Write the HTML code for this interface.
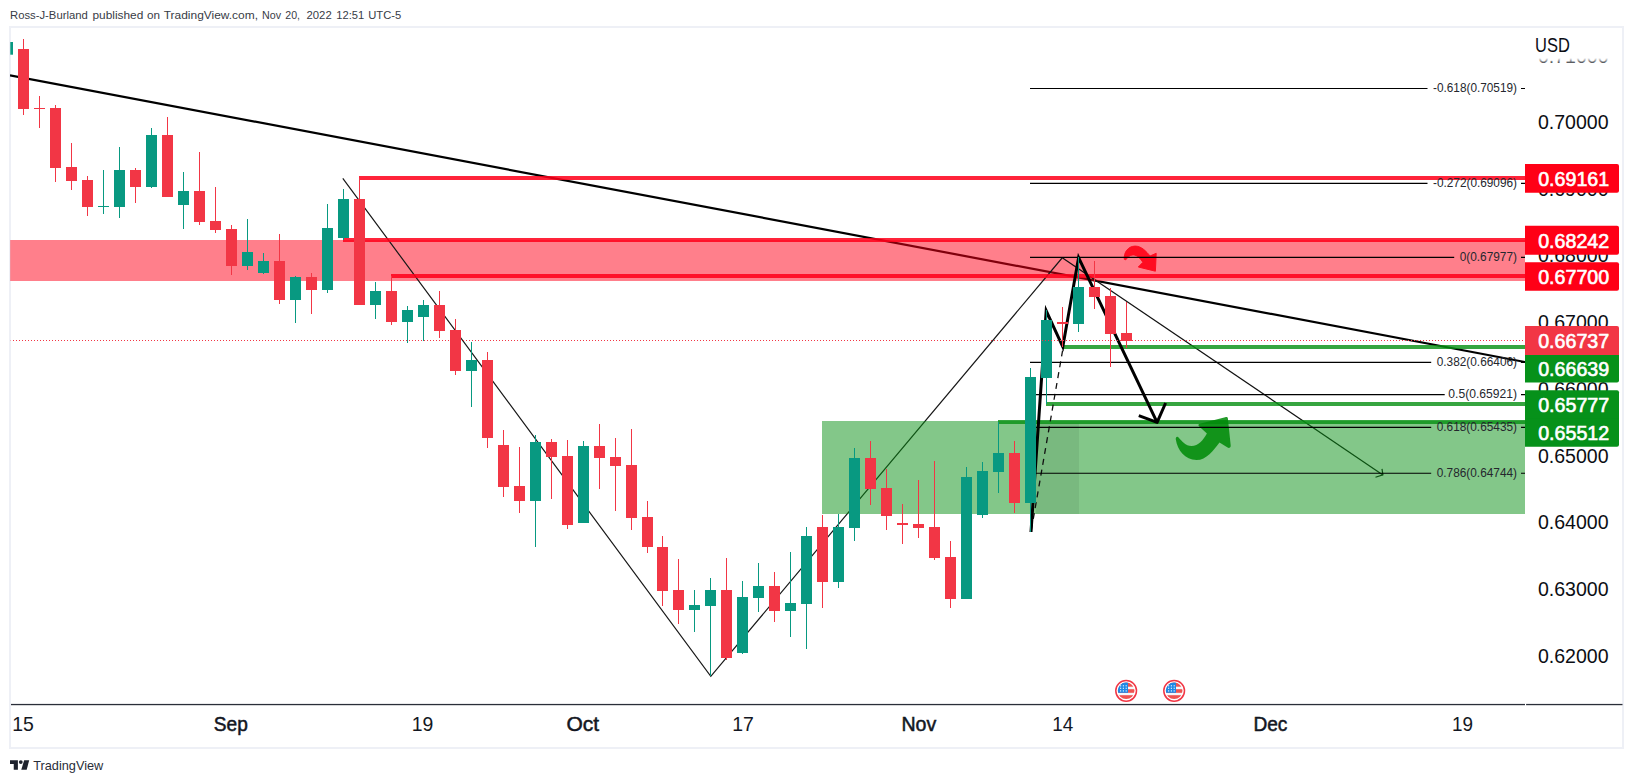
<!DOCTYPE html>
<html lang="en"><head><meta charset="utf-8"><title>TradingView chart</title>
<style>html,body{margin:0;padding:0;background:#fff;overflow:hidden}body{width:1633px;height:783px;position:relative;font-family:"Liberation Sans",sans-serif}svg text{font-family:"Liberation Sans",sans-serif}</style></head>
<body>
<svg width="1633" height="783" viewBox="0 0 1633 783" style="display:block;position:absolute;left:0;top:0">
<defs><linearGradient id="fade" x1="0" y1="0" x2="0" y2="1"><stop offset="0" stop-color="#fff" stop-opacity="1"/><stop offset="0.83" stop-color="#fff" stop-opacity="1"/><stop offset="1" stop-color="#fff" stop-opacity="0.1"/></linearGradient>
<clipPath id="flagclip1"><circle cx="1126.15" cy="690.8" r="8.3"/></clipPath><clipPath id="flagclip2"><circle cx="1174.15" cy="690.8" r="8.3"/></clipPath>
<clipPath id="plot"><rect x="10" y="28" width="1515" height="676"/></clipPath></defs>
<rect width="1633" height="783" fill="#fff"/>
<rect x="10" y="27" width="1613" height="721" fill="none" stroke="#eef0f6" stroke-width="2"/>
<g clip-path="url(#plot)">
<line x1="10" y1="75.3" x2="1525" y2="362" stroke="#000" stroke-width="2.2"/>
<rect x="10.2" y="240" width="1514.8" height="41" fill="rgb(255,0,24)" fill-opacity="0.5"/>
<g stroke="#111" stroke-width="1.2" fill="none"><path d="M1062.6 257.9L1382.9 474.9"/><path d="M1382 468.8L1382.9 474.8L1375.5 477.2"/></g>
<path d="M342.8 178.3L710.8 676.3L1062.5 257.5" fill="none" stroke="#181818" stroke-width="1.2" stroke-linejoin="miter"/>
<rect x="822" y="421" width="703" height="93" fill="rgb(8,144,20)" fill-opacity="0.5"/>
<rect x="1036" y="423" width="43" height="91" fill="#000" fill-opacity="0.07"/>
<rect x="359" y="176" width="1166" height="4" fill="rgb(255,0,26)" fill-opacity="0.86"/>
<rect x="343" y="238" width="1182" height="4" fill="rgb(255,0,26)" fill-opacity="0.86"/>
<rect x="391" y="274" width="1134" height="4" fill="rgb(255,0,26)" fill-opacity="0.86"/>
<rect x="359" y="180" width="1" height="20" fill="#f23645"/>
<rect x="391" y="278" width="1" height="14" fill="#f23645"/>
<rect x="1063" y="345" width="462" height="4" fill="rgb(8,144,20)" fill-opacity="0.81"/>
<rect x="1046" y="402" width="479" height="4" fill="rgb(8,144,20)" fill-opacity="0.81"/>
<rect x="998" y="420" width="527" height="4" fill="rgb(8,144,20)" fill-opacity="0.81"/>
<g opacity="0.9"><path fill="rgb(255,0,22)" stroke="rgb(255,0,22)" stroke-width="1" stroke-linejoin="round" d="M1124.3 259.3 C1123.6 252.5 1128 246.3 1135 246.1 C1141.5 246 1146.2 251.5 1150.1 256 L1156.2 253.3 L1155.4 271.2 L1138.3 267 L1142.9 262.3 C1140.3 258.5 1137.5 255 1133.2 254.9 C1129.5 254.9 1127.3 257.5 1125.8 259.8 Z"/></g>
<path fill="rgb(0,138,8)" fill-opacity="0.86" stroke="none" d="M1177.5 436.8 C1176.3 436.6 1175.6 438 1175.8 439.6 C1177.5 450.5 1185 459.8 1196.5 460 C1206.5 460 1213.5 450 1219.5 442.4 L1227.6 447.6 C1229.3 448.5 1230.9 447.3 1230.7 445.5 L1227.9 418.6 C1227.7 417.2 1226.6 416.8 1225.2 417.3 L1199.8 423.7 C1198.3 424.2 1198 425.3 1199 426.2 L1206.9 433.4 C1203 440 1198.5 446 1191.5 446 C1185.5 445.8 1181.8 441 1178.6 437.4 Z"/>
<path d="M1062.6 350.5L1031 532" fill="none" stroke="#111" stroke-width="1.3" stroke-dasharray="6 5"/>
<path d="M1031 532L1046.2 310.8L1062.8 346.8L1078.6 257.6L1157.2 422.6" fill="none" stroke="#000" stroke-width="3" stroke-linejoin="miter" stroke-miterlimit="10"/>
<path d="M1138.8 415.7L1157.1 422.4L1165.6 403" fill="none" stroke="#000" stroke-width="3" stroke-linejoin="round"/>
</g>
<path d="M1030 88.5H1427.5M1521 88.5H1525" stroke="#000" stroke-width="1.15"/>
<text x="1433.00" y="92.0" font-size="12.4" fill="#25272e" textLength="84" lengthAdjust="spacingAndGlyphs">-0.618(0.70519)</text>
<path d="M1030 183.3H1427.5M1521 183.3H1525" stroke="#000" stroke-width="1.15"/>
<text x="1433.00" y="186.8" font-size="12.4" fill="#25272e" textLength="84" lengthAdjust="spacingAndGlyphs">-0.272(0.69096)</text>
<path d="M1030 257.4H1454.2M1521 257.4H1525" stroke="#000" stroke-width="1.15"/>
<text x="1459.70" y="260.9" font-size="12.4" fill="#25272e" textLength="57.3" lengthAdjust="spacingAndGlyphs">0(0.67977)</text>
<path d="M1030 362.4H1431.2M1521 362.4H1525" stroke="#000" stroke-width="1.15"/>
<text x="1436.75" y="365.9" font-size="12.4" fill="#25272e" textLength="80.25" lengthAdjust="spacingAndGlyphs">0.382(0.66406)</text>
<path d="M1030 394.6H1444.7M1521 394.6H1525" stroke="#000" stroke-width="1.15"/>
<text x="1448.30" y="398.1" font-size="12.4" fill="#25272e" textLength="68.7" lengthAdjust="spacingAndGlyphs">0.5(0.65921)</text>
<path d="M1030 427.3H1431.2M1521 427.3H1525" stroke="#000" stroke-width="1.15"/>
<text x="1436.75" y="430.8" font-size="12.4" fill="#25272e" textLength="80.25" lengthAdjust="spacingAndGlyphs">0.618(0.65435)</text>
<path d="M1030 473.2H1431.2M1521 473.2H1525" stroke="#000" stroke-width="1.15"/>
<text x="1436.75" y="476.7" font-size="12.4" fill="#25272e" textLength="80.25" lengthAdjust="spacingAndGlyphs">0.786(0.64744)</text>
<rect x="10.3" y="42" width="2.7" height="12.7" fill="#089981"/>
<rect x="23" y="39" width="1" height="76" fill="#f23645"/><rect x="18" y="49" width="11" height="60" fill="#f23645"/>
<rect x="39" y="96" width="1" height="32" fill="#f23645"/><rect x="34" y="108" width="11" height="1" fill="#f23645"/>
<rect x="55" y="105" width="1" height="77" fill="#f23645"/><rect x="50" y="108" width="11" height="60" fill="#f23645"/>
<rect x="71" y="143" width="1" height="47" fill="#f23645"/><rect x="66" y="167" width="11" height="14" fill="#f23645"/>
<rect x="87" y="176" width="1" height="40" fill="#f23645"/><rect x="82" y="180" width="11" height="27" fill="#f23645"/>
<rect x="103" y="170" width="1" height="44" fill="#089981"/><rect x="98" y="206" width="11" height="1" fill="#089981"/>
<rect x="119" y="147" width="1" height="71" fill="#089981"/><rect x="114" y="170" width="11" height="37" fill="#089981"/>
<rect x="135" y="168" width="1" height="35" fill="#f23645"/><rect x="130" y="170" width="11" height="17" fill="#f23645"/>
<rect x="151" y="128" width="1" height="60" fill="#089981"/><rect x="146" y="135" width="11" height="52" fill="#089981"/>
<rect x="167" y="117" width="1" height="79" fill="#f23645"/><rect x="162" y="135" width="11" height="62" fill="#f23645"/>
<rect x="183" y="172" width="1" height="57" fill="#089981"/><rect x="178" y="191" width="11" height="14" fill="#089981"/>
<rect x="199" y="152" width="1" height="73" fill="#f23645"/><rect x="194" y="191" width="11" height="31" fill="#f23645"/>
<rect x="215" y="187" width="1" height="46" fill="#f23645"/><rect x="210" y="221" width="11" height="9" fill="#f23645"/>
<rect x="231" y="225" width="1" height="50" fill="#f23645"/><rect x="226" y="229" width="11" height="37" fill="#f23645"/>
<rect x="247" y="219" width="1" height="51" fill="#089981"/><rect x="242" y="252" width="11" height="14" fill="#089981"/>
<rect x="263" y="253" width="1" height="21" fill="#089981"/><rect x="258" y="261" width="11" height="12" fill="#089981"/>
<rect x="279" y="234" width="1" height="70" fill="#f23645"/><rect x="274" y="261" width="11" height="39" fill="#f23645"/>
<rect x="295" y="276" width="1" height="47" fill="#089981"/><rect x="290" y="277" width="11" height="23" fill="#089981"/>
<rect x="311" y="273" width="1" height="41" fill="#f23645"/><rect x="306" y="277" width="11" height="13" fill="#f23645"/>
<rect x="327" y="204" width="1" height="89" fill="#089981"/><rect x="322" y="228" width="11" height="62" fill="#089981"/>
<rect x="343" y="189" width="1" height="51" fill="#089981"/><rect x="338" y="199" width="11" height="39" fill="#089981"/>
<rect x="359" y="178" width="1" height="127" fill="#f23645"/><rect x="354" y="199" width="11" height="106" fill="#f23645"/>
<rect x="375" y="282" width="1" height="37" fill="#089981"/><rect x="370" y="291" width="11" height="14" fill="#089981"/>
<rect x="391" y="276" width="1" height="49" fill="#f23645"/><rect x="386" y="291" width="11" height="31" fill="#f23645"/>
<rect x="407" y="306" width="1" height="37" fill="#089981"/><rect x="402" y="310" width="11" height="12" fill="#089981"/>
<rect x="423" y="300" width="1" height="41" fill="#089981"/><rect x="418" y="305" width="11" height="12" fill="#089981"/>
<rect x="439" y="291" width="1" height="47" fill="#f23645"/><rect x="434" y="305" width="11" height="26" fill="#f23645"/>
<rect x="455" y="319" width="1" height="56" fill="#f23645"/><rect x="450" y="330" width="11" height="41" fill="#f23645"/>
<rect x="471" y="342" width="1" height="65" fill="#089981"/><rect x="466" y="360" width="11" height="11" fill="#089981"/>
<rect x="487" y="352" width="1" height="96" fill="#f23645"/><rect x="482" y="360" width="11" height="78" fill="#f23645"/>
<rect x="503" y="430" width="1" height="67" fill="#f23645"/><rect x="498" y="445" width="11" height="42" fill="#f23645"/>
<rect x="519" y="447" width="1" height="66" fill="#f23645"/><rect x="514" y="486" width="11" height="15" fill="#f23645"/>
<rect x="535" y="435" width="1" height="112" fill="#089981"/><rect x="530" y="442" width="11" height="59" fill="#089981"/>
<rect x="551" y="439" width="1" height="60" fill="#f23645"/><rect x="546" y="442" width="11" height="15" fill="#f23645"/>
<rect x="567" y="440" width="1" height="89" fill="#f23645"/><rect x="562" y="456" width="11" height="69" fill="#f23645"/>
<rect x="583" y="441" width="1" height="82" fill="#089981"/><rect x="578" y="446" width="11" height="77" fill="#089981"/>
<rect x="599" y="424" width="1" height="65" fill="#f23645"/><rect x="594" y="446" width="11" height="12" fill="#f23645"/>
<rect x="615" y="438" width="1" height="73" fill="#f23645"/><rect x="610" y="457" width="11" height="9" fill="#f23645"/>
<rect x="631" y="429" width="1" height="101" fill="#f23645"/><rect x="626" y="465" width="11" height="53" fill="#f23645"/>
<rect x="647" y="501" width="1" height="52" fill="#f23645"/><rect x="642" y="517" width="11" height="30" fill="#f23645"/>
<rect x="662" y="536" width="1" height="70" fill="#f23645"/><rect x="657" y="547" width="11" height="44" fill="#f23645"/>
<rect x="678" y="559" width="1" height="65" fill="#f23645"/><rect x="673" y="590" width="11" height="20" fill="#f23645"/>
<rect x="694" y="590" width="1" height="42" fill="#089981"/><rect x="689" y="605" width="11" height="5" fill="#089981"/>
<rect x="710" y="578" width="1" height="98" fill="#089981"/><rect x="705" y="590" width="11" height="16" fill="#089981"/>
<rect x="726" y="558" width="1" height="102" fill="#f23645"/><rect x="721" y="590" width="11" height="68" fill="#f23645"/>
<rect x="742" y="581" width="1" height="73" fill="#089981"/><rect x="737" y="597" width="11" height="56" fill="#089981"/>
<rect x="758" y="563" width="1" height="49" fill="#089981"/><rect x="753" y="586" width="11" height="12" fill="#089981"/>
<rect x="774" y="572" width="1" height="50" fill="#f23645"/><rect x="769" y="586" width="11" height="25" fill="#f23645"/>
<rect x="790" y="552" width="1" height="85" fill="#089981"/><rect x="785" y="603" width="11" height="8" fill="#089981"/>
<rect x="806" y="527" width="1" height="122" fill="#089981"/><rect x="801" y="536" width="11" height="68" fill="#089981"/>
<rect x="822" y="515" width="1" height="93" fill="#f23645"/><rect x="817" y="527" width="11" height="55" fill="#f23645"/>
<rect x="838" y="514" width="1" height="74" fill="#089981"/><rect x="833" y="527" width="11" height="55" fill="#089981"/>
<rect x="854" y="448" width="1" height="93" fill="#089981"/><rect x="849" y="458" width="11" height="70" fill="#089981"/>
<rect x="870" y="441" width="1" height="64" fill="#f23645"/><rect x="865" y="458" width="11" height="31" fill="#f23645"/>
<rect x="886" y="469" width="1" height="61" fill="#f23645"/><rect x="881" y="488" width="11" height="28" fill="#f23645"/>
<rect x="902" y="504" width="1" height="40" fill="#f23645"/><rect x="897" y="523" width="11" height="2" fill="#f23645"/>
<rect x="918" y="480" width="1" height="58" fill="#f23645"/><rect x="913" y="524" width="11" height="4" fill="#f23645"/>
<rect x="934" y="461" width="1" height="99" fill="#f23645"/><rect x="929" y="527" width="11" height="31" fill="#f23645"/>
<rect x="950" y="541" width="1" height="67" fill="#f23645"/><rect x="945" y="557" width="11" height="42" fill="#f23645"/>
<rect x="966" y="467" width="1" height="132" fill="#089981"/><rect x="961" y="477" width="11" height="122" fill="#089981"/>
<rect x="982" y="462" width="1" height="56" fill="#089981"/><rect x="977" y="471" width="11" height="44" fill="#089981"/>
<rect x="998" y="422" width="1" height="71" fill="#089981"/><rect x="993" y="453" width="11" height="19" fill="#089981"/>
<rect x="1014" y="441" width="1" height="72" fill="#f23645"/><rect x="1009" y="453" width="11" height="50" fill="#f23645"/>
<rect x="1030" y="368" width="1" height="164" fill="#089981"/><rect x="1025" y="377" width="11" height="126" fill="#089981"/>
<rect x="1046" y="310" width="1" height="94" fill="#089981"/><rect x="1041" y="320" width="11" height="58" fill="#089981"/>
<rect x="1062" y="307" width="1" height="40" fill="#f23645"/><rect x="1057" y="322" width="11" height="2" fill="#f23645"/>
<rect x="1078" y="257" width="1" height="75" fill="#089981"/><rect x="1073" y="287" width="11" height="37" fill="#089981"/>
<rect x="1094" y="261" width="1" height="48" fill="#f23645"/><rect x="1089" y="287" width="11" height="10" fill="#f23645"/>
<rect x="1110" y="288" width="1" height="79" fill="#f23645"/><rect x="1105" y="296" width="11" height="38" fill="#f23645"/>
<rect x="1126" y="302" width="1" height="46" fill="#f23645"/><rect x="1121" y="333" width="11" height="8" fill="#f23645"/>
<line x1="13" y1="340.5" x2="1525" y2="340.5" stroke="#f23645" stroke-width="1" stroke-dasharray="1 2"/>
<rect x="10" y="340" width="1" height="1" fill="#f23645" fill-opacity="0.35"/>
<circle cx="1126.15" cy="690.8" r="10.35" fill="#fff" stroke="#f23645" stroke-width="1.5"/>
<g clip-path="url(#flagclip1)"><rect x="1117.15" y="681.8" width="18" height="18" fill="#f5f7fa"/>
<rect x="1117.15" y="682" width="18" height="4.7" fill="#ef5350"/><rect x="1117.15" y="689.2" width="18" height="3.6" fill="#ef5350"/><rect x="1117.15" y="695.2" width="18" height="5" fill="#ef5350"/>
<rect x="1117.15" y="682" width="10.85" height="10.8" fill="#1e88e5"/>
<rect x="1120.0" y="685.2" width="1.2" height="1.2" fill="#fff" fill-opacity="0.85"/>
<rect x="1120.0" y="687.7" width="1.2" height="1.2" fill="#fff" fill-opacity="0.85"/>
<rect x="1120.0" y="690.3" width="1.2" height="1.2" fill="#fff" fill-opacity="0.85"/>
<rect x="1122.8" y="685.2" width="1.2" height="1.2" fill="#fff" fill-opacity="0.85"/>
<rect x="1122.8" y="687.7" width="1.2" height="1.2" fill="#fff" fill-opacity="0.85"/>
<rect x="1122.8" y="690.3" width="1.2" height="1.2" fill="#fff" fill-opacity="0.85"/>
<rect x="1125.6" y="685.2" width="1.2" height="1.2" fill="#fff" fill-opacity="0.85"/>
<rect x="1125.6" y="687.7" width="1.2" height="1.2" fill="#fff" fill-opacity="0.85"/>
<rect x="1125.6" y="690.3" width="1.2" height="1.2" fill="#fff" fill-opacity="0.85"/>
</g>
<circle cx="1174.15" cy="690.8" r="10.35" fill="#fff" stroke="#f23645" stroke-width="1.5"/>
<g clip-path="url(#flagclip2)"><rect x="1165.15" y="681.8" width="18" height="18" fill="#f5f7fa"/>
<rect x="1165.15" y="682" width="18" height="4.7" fill="#ef5350"/><rect x="1165.15" y="689.2" width="18" height="3.6" fill="#ef5350"/><rect x="1165.15" y="695.2" width="18" height="5" fill="#ef5350"/>
<rect x="1165.15" y="682" width="10.85" height="10.8" fill="#1e88e5"/>
<rect x="1168.0" y="685.2" width="1.2" height="1.2" fill="#fff" fill-opacity="0.85"/>
<rect x="1168.0" y="687.7" width="1.2" height="1.2" fill="#fff" fill-opacity="0.85"/>
<rect x="1168.0" y="690.3" width="1.2" height="1.2" fill="#fff" fill-opacity="0.85"/>
<rect x="1170.8" y="685.2" width="1.2" height="1.2" fill="#fff" fill-opacity="0.85"/>
<rect x="1170.8" y="687.7" width="1.2" height="1.2" fill="#fff" fill-opacity="0.85"/>
<rect x="1170.8" y="690.3" width="1.2" height="1.2" fill="#fff" fill-opacity="0.85"/>
<rect x="1173.6" y="685.2" width="1.2" height="1.2" fill="#fff" fill-opacity="0.85"/>
<rect x="1173.6" y="687.7" width="1.2" height="1.2" fill="#fff" fill-opacity="0.85"/>
<rect x="1173.6" y="690.3" width="1.2" height="1.2" fill="#fff" fill-opacity="0.85"/>
</g>
<rect x="11" y="703.9" width="1514" height="1.3" fill="#2a2e39"/><rect x="1526.1" y="703.9" width="96.4" height="1.3" fill="#2a2e39"/>
<text x="23.0" y="731" font-size="19.8" text-anchor="middle" fill="#131722" textLength="21.6" lengthAdjust="spacingAndGlyphs">15</text>
<text x="230.8" y="731" font-size="19.8" text-anchor="middle" fill="#131722" stroke="#131722" stroke-width="0.5" textLength="34.0" lengthAdjust="spacingAndGlyphs">Sep</text>
<text x="422.5" y="731" font-size="19.8" text-anchor="middle" fill="#131722" textLength="21.6" lengthAdjust="spacingAndGlyphs">19</text>
<text x="582.75" y="731" font-size="19.8" text-anchor="middle" fill="#131722" stroke="#131722" stroke-width="0.5" textLength="32.6" lengthAdjust="spacingAndGlyphs">Oct</text>
<text x="743.1" y="731" font-size="19.8" text-anchor="middle" fill="#131722" textLength="21.6" lengthAdjust="spacingAndGlyphs">17</text>
<text x="918.8" y="731" font-size="19.8" text-anchor="middle" fill="#131722" stroke="#131722" stroke-width="0.5" textLength="34.8" lengthAdjust="spacingAndGlyphs">Nov</text>
<text x="1062.8" y="731" font-size="19.8" text-anchor="middle" fill="#131722" textLength="21.0" lengthAdjust="spacingAndGlyphs">14</text>
<text x="1270.4" y="731" font-size="19.8" text-anchor="middle" fill="#131722" stroke="#131722" stroke-width="0.5" textLength="34.0" lengthAdjust="spacingAndGlyphs">Dec</text>
<text x="1462.5" y="731" font-size="19.8" text-anchor="middle" fill="#131722" textLength="21.0" lengthAdjust="spacingAndGlyphs">19</text>
<text x="1537.9" y="663.0" font-size="20" fill="#0c0e14" textLength="70.6" lengthAdjust="spacingAndGlyphs">0.62000</text>
<text x="1537.9" y="596.2" font-size="20" fill="#0c0e14" textLength="70.6" lengthAdjust="spacingAndGlyphs">0.63000</text>
<text x="1537.9" y="529.4" font-size="20" fill="#0c0e14" textLength="70.6" lengthAdjust="spacingAndGlyphs">0.64000</text>
<text x="1537.9" y="462.6" font-size="20" fill="#0c0e14" textLength="70.6" lengthAdjust="spacingAndGlyphs">0.65000</text>
<text x="1537.9" y="395.9" font-size="20" fill="#0c0e14" textLength="70.6" lengthAdjust="spacingAndGlyphs">0.66000</text>
<text x="1537.9" y="329.1" font-size="20" fill="#0c0e14" textLength="70.6" lengthAdjust="spacingAndGlyphs">0.67000</text>
<text x="1537.9" y="262.3" font-size="20" fill="#0c0e14" textLength="70.6" lengthAdjust="spacingAndGlyphs">0.68000</text>
<text x="1537.9" y="195.6" font-size="20" fill="#0c0e14" textLength="70.6" lengthAdjust="spacingAndGlyphs">0.69000</text>
<text x="1537.9" y="128.8" font-size="20" fill="#0c0e14" textLength="70.6" lengthAdjust="spacingAndGlyphs">0.70000</text>
<text x="1537.9" y="62.8" font-size="20" fill="#0c0e14" textLength="70.6" lengthAdjust="spacingAndGlyphs">0.71000</text>
<rect x="1526" y="29" width="95" height="35" fill="url(#fade)"/>
<text x="1535.1" y="51.8" font-size="19.4" fill="#0c0e14" textLength="34.8" lengthAdjust="spacingAndGlyphs">USD</text>
<path d="M1525 163.90H1617a2 2 0 0 1 2 2V190.80a2 2 0 0 1 -2 2H1525Z" fill="#ff0016"/>
<text x="1538.2" y="186.00" font-size="20" fill="#fff" stroke="#fff" stroke-width="0.65" textLength="71" lengthAdjust="spacingAndGlyphs">0.69161</text>
<path d="M1525 225.80H1617a2 2 0 0 1 2 2V252.70a2 2 0 0 1 -2 2H1525Z" fill="#ff0016"/>
<text x="1538.2" y="247.85" font-size="20" fill="#fff" stroke="#fff" stroke-width="0.65" textLength="71" lengthAdjust="spacingAndGlyphs">0.68242</text>
<path d="M1525 262.20H1617a2 2 0 0 1 2 2V288.80a2 2 0 0 1 -2 2H1525Z" fill="#ff0016"/>
<text x="1538.2" y="284.00" font-size="20" fill="#fff" stroke="#fff" stroke-width="0.65" textLength="71" lengthAdjust="spacingAndGlyphs">0.67700</text>
<path d="M1525 326.10H1617a2 2 0 0 1 2 2V355.60H1525Z" fill="#f23645"/>
<text x="1538.2" y="347.80" font-size="20" fill="#fff" stroke="#fff" stroke-width="0.65" textLength="71" lengthAdjust="spacingAndGlyphs">0.66737</text>
<path d="M1525 354.90H1619V380.60a2 2 0 0 1 -2 2H1525Z" fill="#06911a"/>
<text x="1538.2" y="375.80" font-size="20" fill="#fff" stroke="#fff" stroke-width="0.65" textLength="71" lengthAdjust="spacingAndGlyphs">0.66639</text>
<path d="M1525 390.15H1617a2 2 0 0 1 2 2V419.05H1525Z" fill="#06911a"/>
<text x="1538.2" y="411.90" font-size="20" fill="#fff" stroke="#fff" stroke-width="0.65" textLength="71" lengthAdjust="spacingAndGlyphs">0.65777</text>
<path d="M1525 418.30H1619V444.80a2 2 0 0 1 -2 2H1525Z" fill="#06911a"/>
<text x="1538.2" y="439.60" font-size="20" fill="#fff" stroke="#fff" stroke-width="0.65" textLength="71" lengthAdjust="spacingAndGlyphs">0.65512</text>
<text x="10.00" y="18.75" font-size="11.5" fill="#383c46" textLength="77.75" lengthAdjust="spacingAndGlyphs">Ross-J-Burland</text>
<text x="92.50" y="18.75" font-size="11.5" fill="#383c46" textLength="50.75" lengthAdjust="spacingAndGlyphs">published</text>
<text x="147.00" y="18.75" font-size="11.5" fill="#383c46" textLength="13.00" lengthAdjust="spacingAndGlyphs">on</text>
<text x="163.75" y="18.75" font-size="11.5" fill="#383c46" textLength="94.25" lengthAdjust="spacingAndGlyphs">TradingView.com,</text>
<text x="262.00" y="18.75" font-size="11.5" fill="#383c46" textLength="19.00" lengthAdjust="spacingAndGlyphs">Nov</text>
<text x="285.25" y="18.75" font-size="11.5" fill="#383c46" textLength="14.75" lengthAdjust="spacingAndGlyphs">20,</text>
<text x="306.50" y="18.75" font-size="11.5" fill="#383c46" textLength="25.25" lengthAdjust="spacingAndGlyphs">2022</text>
<text x="336.25" y="18.75" font-size="11.5" fill="#383c46" textLength="28.00" lengthAdjust="spacingAndGlyphs">12:51</text>
<text x="368.25" y="18.75" font-size="11.5" fill="#383c46" textLength="33.00" lengthAdjust="spacingAndGlyphs">UTC-5</text>
<g fill="#1e222d"><path d="M10 760.2H17.9V769.75H13.75V764.1H10Z"/><circle cx="20.8" cy="762.1" r="1.9"/><path d="M24.2 760.2H29.2L26.7 769.75H21.25Z"/></g>
<text x="33.2" y="769.9" font-size="12.6" fill="#2a2e39" textLength="70.1" lengthAdjust="spacingAndGlyphs">TradingView</text>
</svg>
</body></html>
